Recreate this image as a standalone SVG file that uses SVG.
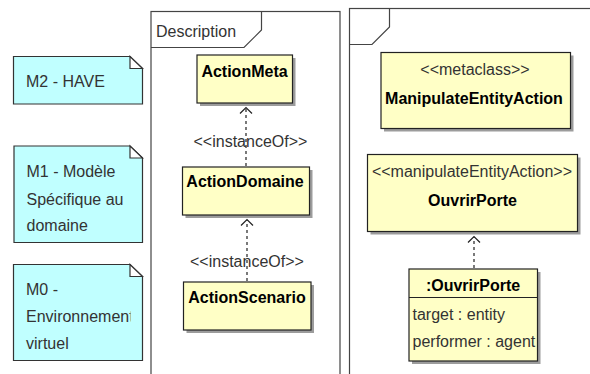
<svg xmlns="http://www.w3.org/2000/svg" width="590" height="374" viewBox="0 0 590 374">
  <style>
    text { font-family: "Liberation Sans", Arial, sans-serif; font-size: 16px; fill: #333; }
    .b { font-weight: bold; fill: #000; }
    .c { text-anchor: middle; }
    .frame { fill: #fff; stroke: #444; stroke-width: 1.2; }
    .tab { fill: none; stroke: #444; stroke-width: 1.2; }
    .note { fill: #c0ffff; stroke: #333; stroke-width: 1.2; }
    .fold { fill: #fff; stroke: #333; stroke-width: 1.2; }
    .cls { fill: #ffffc6; stroke: #222; stroke-width: 1.2; }
    .shadow { fill: #9c9c9c; }
    .dep { fill: none; stroke: #222; stroke-width: 1.2; stroke-dasharray: 3 3; }
    .head { fill: none; stroke: #222; stroke-width: 1.2; }
  </style>
  <defs>
    <clipPath id="m0clip"><rect x="14" y="264" width="116.5" height="96"/></clipPath>
  </defs>
  <rect width="590" height="374" fill="#fff"/>

  <!-- package frames -->
  <g id="frame-description">
    <rect class="frame" x="151" y="11.5" width="189" height="380"/>
    <path class="tab" d="M151 47.5 H244 L261.5 30 V11.5"/>
    <text x="156" y="37">Description</text>
  </g>
  <g id="frame-right">
    <rect class="frame" x="349.5" y="8.5" width="260" height="380"/>
    <path class="tab" d="M349.5 44.5 H372 L389.5 27 V8.5"/>
  </g>

  <!-- level notes -->
  <g id="note-m2">
    <path class="note" d="M13.5 56.5 H130 L142.5 68.5 V104 H13.5 Z"/>
    <path class="fold" d="M130 56.5 L142.5 68.5 H130 Z"/>
    <text x="26" y="87">M2 - HAVE</text>
  </g>
  <g id="note-m1">
    <path class="note" d="M14 146 H130 L142.5 158 V242.5 H14 Z"/>
    <path class="fold" d="M130 146 L142.5 158 H130 Z"/>
    <text x="26.5" y="177">M1 - Modèle</text>
    <text x="26.5" y="204.5">Spécifique au</text>
    <text x="26.5" y="230.5">domaine</text>
  </g>
  <g id="note-m0">
    <path class="note" d="M13.5 264.5 H130 L142.5 276.5 V360.5 H13.5 Z"/>
    <path class="fold" d="M130 264.5 L142.5 276.5 H130 Z"/>
    <text x="26" y="295">M0 -</text>
    <text x="26" y="322" clip-path="url(#m0clip)">Environnement</text>
    <text x="26" y="348.5">virtuel</text>
  </g>

  <!-- classes -->
  <g id="action-meta">
    <rect class="shadow" x="200" y="58" width="95.5" height="48"/>
    <rect class="cls" x="197" y="55" width="95.5" height="48"/>
    <text class="b c" x="244.5" y="76.5">ActionMeta</text>
  </g>
  <g id="action-domaine">
    <rect class="shadow" x="185.5" y="170" width="127" height="48"/>
    <rect class="cls" x="182.5" y="167" width="127" height="48"/>
    <text class="b c" x="245" y="187">ActionDomaine</text>
  </g>
  <g id="action-scenario">
    <rect class="shadow" x="186.5" y="285" width="127.5" height="48"/>
    <rect class="cls" x="183.5" y="282" width="127.5" height="48"/>
    <text class="b c" x="247" y="302.5">ActionScenario</text>
  </g>
  <g id="manipulate-entity-action">
    <rect class="shadow" x="384" y="55.5" width="189.5" height="76"/>
    <rect class="cls" x="381" y="52.5" width="189.5" height="76"/>
    <text class="c" x="475" y="75">&lt;&lt;metaclass&gt;&gt;</text>
    <text class="b c" x="474" y="103.5">ManipulateEntityAction</text>
  </g>
  <g id="ouvrir-porte">
    <rect class="shadow" x="370.5" y="157.5" width="210" height="77"/>
    <rect class="cls" x="367.5" y="154.5" width="210" height="77"/>
    <text class="c" x="472" y="176.5">&lt;&lt;manipulateEntityAction&gt;&gt;</text>
    <text class="b c" x="472.5" y="205.5">OuvrirPorte</text>
  </g>
  <g id="ouvrir-porte-instance">
    <rect class="shadow" x="412" y="272" width="128.5" height="92"/>
    <rect class="cls" x="409" y="269" width="128.5" height="92"/>
    <line x1="409" y1="297.5" x2="537.5" y2="297.5" stroke="#222" stroke-width="1.2"/>
    <text class="b c" x="473" y="290.5">:OuvrirPorte</text>
    <text x="412.5" y="319.5">target : entity</text>
    <text x="412.5" y="347">performer : agent</text>
  </g>

  <!-- dependencies -->
  <g id="connectors">
    <line class="dep" x1="246" y1="166" x2="246" y2="108"/>
    <path class="head" d="M240 113.5 L246 107.5 L252 113.5"/>
    <text x="193.5" y="147">&lt;&lt;instanceOf&gt;&gt;</text>

    <line class="dep" x1="247" y1="281" x2="247" y2="220"/>
    <path class="head" d="M241 225.5 L247 219.5 L253 225.5"/>
    <text x="190" y="266.5">&lt;&lt;instanceOf&gt;&gt;</text>

    <line class="dep" x1="474" y1="268" x2="474" y2="237"/>
    <path class="head" d="M468 242.5 L474 236.5 L480 242.5"/>
  </g>
</svg>
